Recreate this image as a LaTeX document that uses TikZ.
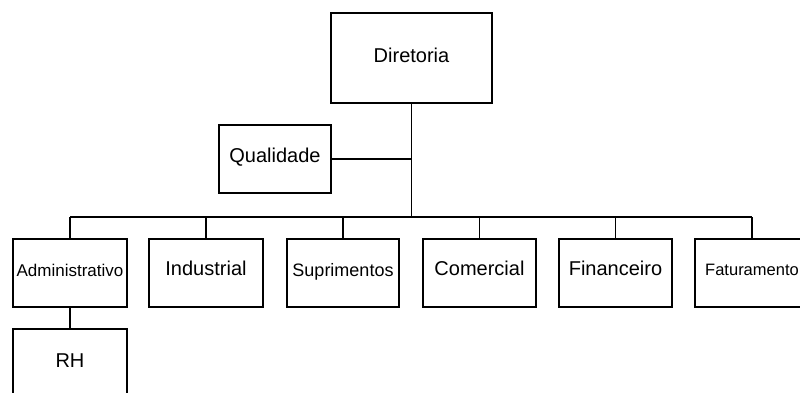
\documentclass[tikz,border=0pt]{standalone}
\usepackage{fontspec}
\setmainfont{Liberation Sans}
\begin{document}
\begin{tikzpicture}[x=1pt,y=-1pt,
  unit/.style={draw=black, line width=1.3pt, rectangle, inner sep=0pt, outer sep=0pt,
    minimum width=114pt, minimum height=68pt, font=\fontsize{20}{24}\selectfont,
    text height=14pt, text depth=10pt},
  smallunit/.style={unit, font=\fontsize{18}{21}\selectfont, text height=12pt, text depth=5pt},
  link/.style={line width=1.3pt, black}]
  \clip (0,0) rectangle (800,392);
  \fill[white] (0,0) rectangle (800,392);

  % top of the chart
  \node[unit, minimum width=161pt, minimum height=90pt, text depth=6pt] (dir) at (411.5,58) {Diretoria};
  \node[unit, minimum width=112pt, text depth=8pt] (qual) at (275,159) {Qualidade};

  % departments
  \node[smallunit, font=\fontsize{17}{20}\selectfont] (adm) at (70,273) {Administrativo};
  \node[unit] (ind) at (206,273) {Industrial};
  \node[smallunit, minimum width=112pt] (sup) at (343,273) {Suprimentos};
  \node[unit, minimum width=113pt] (com) at (479.5,273) {Comercial};
  \node[unit, minimum width=113pt] (fin) at (615.5,273) {Financeiro};
  \node[smallunit, font=\fontsize{16.5}{20}\selectfont, text depth=8pt] (fat) at (752,273) {Faturamento};

  % sub-unit
  \node[unit, text depth=6pt] (rh) at (70,363) {RH};

  % connectors
  \coordinate (bus) at (0,217);
  \draw[link] (dir.south) -- (dir.south |- bus);
  \draw[link] (qual.east) -- (qual.east -| dir.south);
  \draw[link] (adm.north |- bus) -- (fat.north |- bus);
  \foreach \n in {adm,ind,sup,com,fin,fat}
    \draw[link] (\n.north) -- (\n.north |- bus);
  \draw[link] (adm.south) -- (rh.north);
\end{tikzpicture}
\end{document}
